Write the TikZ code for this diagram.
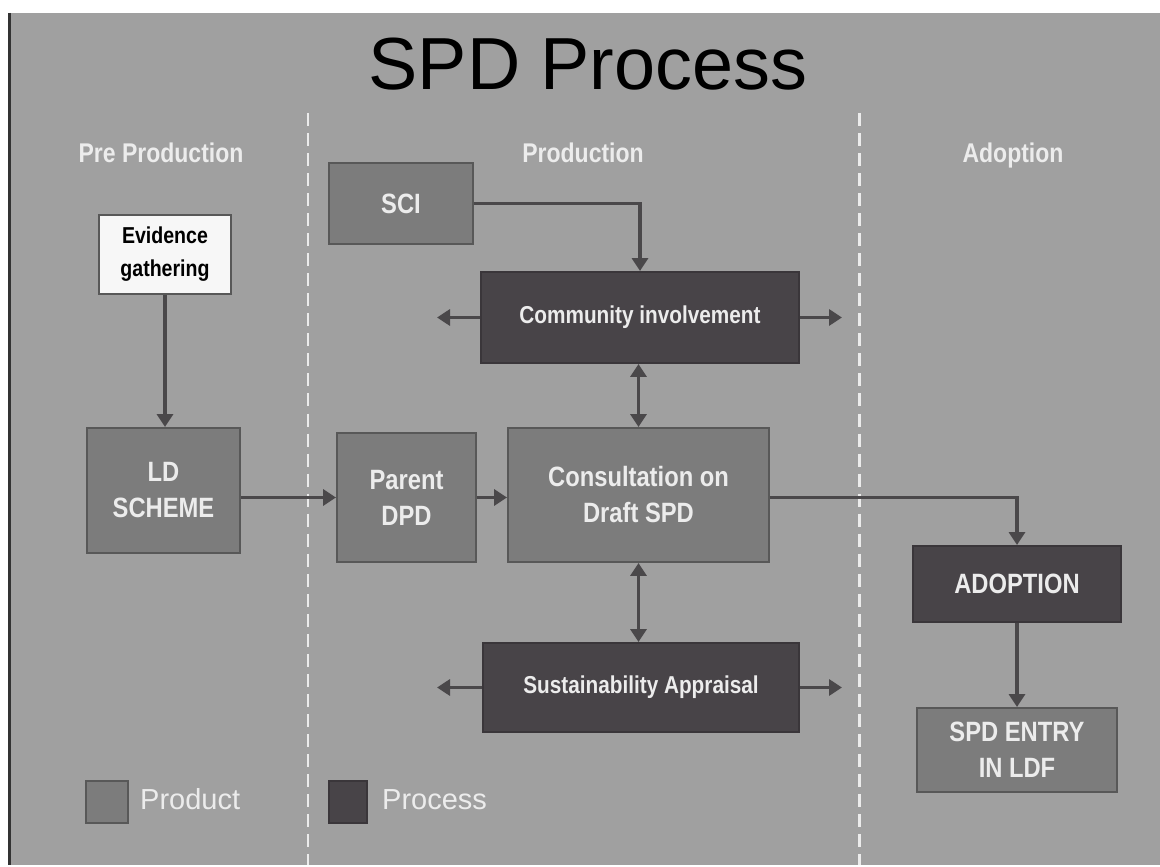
\documentclass[tikz,border=0pt]{standalone}
\usepackage{fontspec}
\setmainfont{Liberation Sans}
\newfontfamily\narrowfont{Liberation Sans}[FakeStretch=0.85]
\usetikzlibrary{arrows.meta}
\definecolor{bggray}{RGB}{160,160,160}
\definecolor{prodgray}{RGB}{124,124,124}
\definecolor{procgray}{RGB}{72,68,72}
\definecolor{linegray}{RGB}{74,72,74}
\definecolor{edgegray}{RGB}{88,88,88}
\definecolor{labelwhite}{RGB}{236,236,236}

\begin{document}
\begin{tikzpicture}[x=0.2mm, y=-0.2mm,
    product/.style={draw=edgegray, line width=1.1pt, fill=prodgray, inner sep=0pt, text=labelwhite, align=center,
      font=\narrowfont\bfseries\fontsize{15.9}{20.5}\selectfont},
    process/.style={product, draw=procgray!80!black, fill=procgray, font=\narrowfont\bfseries\fontsize{13.9}{17}\selectfont},
    flow/.style={draw=linegray, line width=1.9pt, -{Triangle[length=2.6mm,width=3.2mm]}},
    both/.style={flow, {Triangle[length=2.6mm,width=3.2mm]}-{Triangle[length=2.6mm,width=3.2mm]}},
    header/.style={anchor=base, text=labelwhite, font=\narrowfont\bfseries\fontsize{15.4}{18}\selectfont},
    divider/.style={draw=labelwhite, line width=1.7pt, dash pattern=on 7.4pt off 4pt}]
  \fill[white] (0,0) rectangle (1160,865);
  \fill[bggray] (11,13) rectangle (1160,865);
  \draw[black!80, line width=1.7pt] (9.5,13) -- (9.5,865);
  \draw[divider] (308,113) -- (308,865);
  \draw[divider] (859,113) -- (859,865);
  \node[anchor=base, font=\fontsize{42}{50}\selectfont] (title) at (588,90) {SPD Process};
  \node[header] (preprod) at (161,163) {Pre Production};
  \node[header] (prod) at (583,163) {Production};
  \node[header] (adopt) at (1013,163) {Adoption};

  \node[product, fill=white!97!black, text=black, minimum width=26.4mm, minimum height=15.8mm,
    font=\narrowfont\bfseries\fontsize{13.1}{18.8}\selectfont] (evidence) at (165,254.5) {Evidence\\gathering};
  \node[product, minimum width=30.6mm, minimum height=25mm] (ldscheme) at (163.5,490.5) {LD\\SCHEME};
  \node[product, minimum width=28.8mm, minimum height=16.2mm] (sci) at (401,203.5) {SCI};
  \node[process, minimum width=63.6mm, minimum height=18.2mm] (community) at (640,317.5) {Community involvement};
  \node[product, minimum width=27.8mm, minimum height=25.8mm] (parent) at (406.5,497.5) {Parent\\DPD};
  \node[product, minimum width=52.2mm, minimum height=26.8mm] (consult) at (638.5,495) {Consultation on\\Draft SPD};
  \node[process, minimum width=63.2mm, minimum height=17.8mm] (sust) at (641,687.5) {Sustainability Appraisal};
  \node[process, minimum width=41.6mm, minimum height=15.2mm, font=\narrowfont\bfseries\fontsize{15.9}{20.5}\selectfont] (adoption) at (1017,584) {ADOPTION};
  \node[product, minimum width=40mm, minimum height=16.8mm] (spdentry) at (1017,750) {SPD ENTRY\\IN LDF};

  \coordinate (commleft) at (437,317.5);
  \coordinate (commright) at (842,317.5);
  \coordinate (sustleft) at (437,687.5);
  \coordinate (sustright) at (842,687.5);

  \draw[flow] (evidence.south) -- (evidence.south |- ldscheme.north);
  \draw[flow] (ldscheme.east |- parent.west) -- (parent.west);
  \draw[flow] (parent.east) -- (parent.east -| consult.west);
  \draw[flow] (sci.east) -| (community.north);
  \draw[both] (consult.north) -- (consult.north |- community.south);
  \draw[both] (consult.south) -- (consult.south |- sust.north);
  \draw[flow] (community.west) -- (commleft);
  \draw[flow] (community.east) -- (commright);
  \draw[flow] (sust.west) -- (sustleft);
  \draw[flow] (sust.east) -- (sustright);
  \draw[flow] (consult.east |- parent.east) -| (adoption.north);
  \draw[flow] (adoption.south) -- (spdentry.north);

  \node[product, minimum width=8.4mm, minimum height=8.4mm] (prodkey) at (107,802) {};
  \node[anchor=base west, text=labelwhite, font=\fontsize{16.5}{20}\selectfont] (prodlabel) at (134,809) {Product};
  \node[process, minimum width=7.6mm, minimum height=8.4mm] (prockey) at (348,802) {};
  \node[anchor=base west, text=labelwhite, font=\fontsize{16.5}{20}\selectfont] (proclabel) at (376,809) {Process};
\end{tikzpicture}
\end{document}
